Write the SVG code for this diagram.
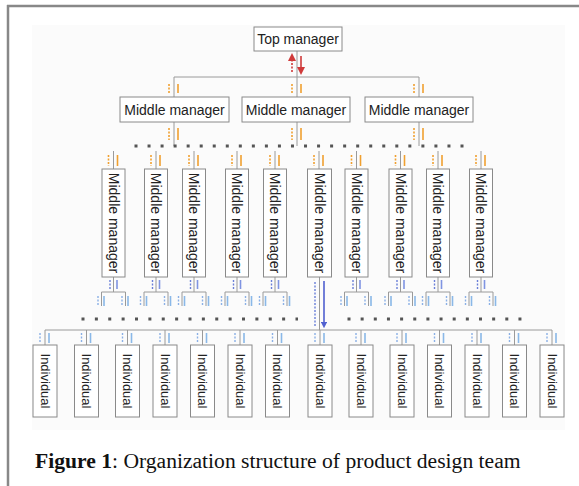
<svg xmlns="http://www.w3.org/2000/svg" width="579" height="486" viewBox="0 0 579 486">
<style>
.box{fill:#fff;stroke:#8a8a8a;stroke-width:1}
.t{font-family:"Liberation Sans",Arial,sans-serif;font-size:14px;fill:#222;text-anchor:middle;dominant-baseline:central}
.ti{font-family:"Liberation Sans",Arial,sans-serif;font-size:13px;fill:#222;text-anchor:middle;dominant-baseline:central}
.ln{stroke:#9a9a9a;stroke-width:1;fill:none}
.dots{stroke:#555;stroke-width:3;fill:none}
.od{stroke:#f0a030;stroke-width:1.6;stroke-dasharray:2 1.5}
.os{stroke:#f0a030;stroke-width:1.6}
.bd{stroke:#6a7fd8;stroke-width:1.4;stroke-dasharray:2 1.5}
.bs{stroke:#7f94e2;stroke-width:1.6}
.ld{stroke:#8ab0e6;stroke-width:1.4;stroke-dasharray:2 1.5}
.ls{stroke:#8ab8e8;stroke-width:1.6}
</style>
<defs>
<marker id="rU" viewBox="0 0 6 6" refX="3" refY="3" markerWidth="5" markerHeight="5" orient="auto"><path d="M0,0 L6,3 L0,6 z" fill="#d03a3a"/></marker>
<marker id="rD" viewBox="0 0 6 6" refX="3" refY="3" markerWidth="5" markerHeight="5" orient="auto"><path d="M0,0 L6,3 L0,6 z" fill="#d03a3a"/></marker>
<marker id="bD" viewBox="0 0 6 6" refX="3" refY="3" markerWidth="4" markerHeight="4" orient="auto"><path d="M0,0 L6,3 L0,6 z" fill="#5060d0"/></marker>
</defs>
<rect x="0" y="0" width="579" height="486" fill="#fff"/>
<rect x="32" y="25" width="533" height="405" fill="#fbfbfb"/>
<line x1="7" y1="6" x2="579" y2="6" stroke="#888" stroke-width="2.5"/>
<line x1="8" y1="5" x2="8" y2="486" stroke="#888" stroke-width="2.5"/>

<g id="connectors">
  <line class="ln" x1="297" y1="51" x2="297" y2="77"/>
  <line class="ln" x1="174" y1="77" x2="419" y2="77"/>
  <line x1="292" y1="72" x2="292" y2="57" stroke="#d03a3a" stroke-width="1.6" stroke-dasharray="2 1.5" marker-end="url(#rU)"/>
  <line x1="301" y1="56" x2="301" y2="71" stroke="#d03a3a" stroke-width="1.6" marker-end="url(#rD)"/>
  <line class="ln" x1="174" y1="77" x2="174" y2="97"/>
  <line class="ln" x1="297" y1="77" x2="297" y2="97"/>
  <line class="ln" x1="419" y1="77" x2="419" y2="97"/>
  <line class="od" x1="169" y1="84" x2="169" y2="93"/><line class="os" x1="178" y1="84" x2="178" y2="93"/>
  <line class="od" x1="292" y1="84" x2="292" y2="93"/><line class="os" x1="301" y1="84" x2="301" y2="93"/>
  <line class="od" x1="414" y1="84" x2="414" y2="93"/><line class="os" x1="423" y1="84" x2="423" y2="93"/>
  <line class="ln" x1="174" y1="122" x2="174" y2="146"/>
  <line class="ln" x1="297" y1="122" x2="297" y2="146"/>
  <line class="ln" x1="419" y1="122" x2="419" y2="146"/>
  <line class="od" x1="169" y1="128" x2="169" y2="140"/><line class="os" x1="178" y1="128" x2="178" y2="140"/>
  <line class="od" x1="292" y1="128" x2="292" y2="140"/><line class="os" x1="301" y1="128" x2="301" y2="140"/>
  <line class="od" x1="414" y1="128" x2="414" y2="140"/><line class="os" x1="423" y1="128" x2="423" y2="140"/>
  <line class="dots" x1="134.5" y1="146" x2="464" y2="146" stroke-dasharray="3 10.04"/>
  <g id="vm-top">
    <line class="ln" x1="113.5" y1="151" x2="113.5" y2="169"/><line class="od" x1="108.5" y1="155" x2="108.5" y2="166"/><line class="os" x1="117.5" y1="155" x2="117.5" y2="166"/>
    <line class="ln" x1="156" y1="151" x2="156" y2="169"/><line class="od" x1="151" y1="155" x2="151" y2="166"/><line class="os" x1="160" y1="155" x2="160" y2="166"/>
    <line class="ln" x1="194" y1="151" x2="194" y2="169"/><line class="od" x1="189" y1="155" x2="189" y2="166"/><line class="os" x1="198" y1="155" x2="198" y2="166"/>
    <line class="ln" x1="237" y1="151" x2="237" y2="169"/><line class="od" x1="232" y1="155" x2="232" y2="166"/><line class="os" x1="241" y1="155" x2="241" y2="166"/>
    <line class="ln" x1="275" y1="151" x2="275" y2="169"/><line class="od" x1="270" y1="155" x2="270" y2="166"/><line class="os" x1="279" y1="155" x2="279" y2="166"/>
    <line class="ln" x1="319" y1="151" x2="319" y2="169"/><line class="od" x1="314" y1="155" x2="314" y2="166"/><line class="os" x1="323" y1="155" x2="323" y2="166"/>
    <line class="ln" x1="356.5" y1="151" x2="356.5" y2="169"/><line class="od" x1="351.5" y1="155" x2="351.5" y2="166"/><line class="os" x1="360.5" y1="155" x2="360.5" y2="166"/>
    <line class="ln" x1="400.5" y1="151" x2="400.5" y2="169"/><line class="od" x1="395.5" y1="155" x2="395.5" y2="166"/><line class="os" x1="404.5" y1="155" x2="404.5" y2="166"/>
    <line class="ln" x1="438" y1="151" x2="438" y2="169"/><line class="od" x1="433" y1="155" x2="433" y2="166"/><line class="os" x1="442" y1="155" x2="442" y2="166"/>
    <line class="ln" x1="481" y1="151" x2="481" y2="169"/><line class="od" x1="476" y1="155" x2="476" y2="166"/><line class="os" x1="485" y1="155" x2="485" y2="166"/>
  </g>
  <g id="trees">
    <path class="ln" d="M113.5,277V292M101.5,306V292H125.5V306"/><line class="bd" x1="110" y1="280" x2="110" y2="289"/><line class="bs" x1="117" y1="280" x2="117" y2="289"/><line class="ld" x1="98" y1="296" x2="98" y2="305"/><line class="ls" x1="104" y1="296" x2="104" y2="306"/><line class="ld" x1="122" y1="296" x2="122" y2="305"/><line class="ls" x1="128" y1="296" x2="128" y2="306"/>
    <path class="ln" d="M156,277V292M144,306V292H168V306"/><line class="bd" x1="152.5" y1="280" x2="152.5" y2="289"/><line class="bs" x1="159.5" y1="280" x2="159.5" y2="289"/><line class="ld" x1="140.5" y1="296" x2="140.5" y2="305"/><line class="ls" x1="146.5" y1="296" x2="146.5" y2="306"/><line class="ld" x1="164.5" y1="296" x2="164.5" y2="305"/><line class="ls" x1="170.5" y1="296" x2="170.5" y2="306"/>
    <path class="ln" d="M194,277V292M182,306V292H206V306"/><line class="bd" x1="190.5" y1="280" x2="190.5" y2="289"/><line class="bs" x1="197.5" y1="280" x2="197.5" y2="289"/><line class="ld" x1="178.5" y1="296" x2="178.5" y2="305"/><line class="ls" x1="184.5" y1="296" x2="184.5" y2="306"/><line class="ld" x1="202.5" y1="296" x2="202.5" y2="305"/><line class="ls" x1="208.5" y1="296" x2="208.5" y2="306"/>
    <path class="ln" d="M237,277V292M225,306V292H249V306"/><line class="bd" x1="233.5" y1="280" x2="233.5" y2="289"/><line class="bs" x1="240.5" y1="280" x2="240.5" y2="289"/><line class="ld" x1="221.5" y1="296" x2="221.5" y2="305"/><line class="ls" x1="227.5" y1="296" x2="227.5" y2="306"/><line class="ld" x1="245.5" y1="296" x2="245.5" y2="305"/><line class="ls" x1="251.5" y1="296" x2="251.5" y2="306"/>
    <path class="ln" d="M275,277V292M263,306V292H287V306"/><line class="bd" x1="271.5" y1="280" x2="271.5" y2="289"/><line class="bs" x1="278.5" y1="280" x2="278.5" y2="289"/><line class="ld" x1="259.5" y1="296" x2="259.5" y2="305"/><line class="ls" x1="265.5" y1="296" x2="265.5" y2="306"/><line class="ld" x1="283.5" y1="296" x2="283.5" y2="305"/><line class="ls" x1="289.5" y1="296" x2="289.5" y2="306"/>
    <path class="ln" d="M356.5,277V292M344.5,306V292H368.5V306"/><line class="bd" x1="353" y1="280" x2="353" y2="289"/><line class="bs" x1="360" y1="280" x2="360" y2="289"/><line class="ld" x1="341" y1="296" x2="341" y2="305"/><line class="ls" x1="347" y1="296" x2="347" y2="306"/><line class="ld" x1="365" y1="296" x2="365" y2="305"/><line class="ls" x1="371" y1="296" x2="371" y2="306"/>
    <path class="ln" d="M400.5,277V292M388.5,306V292H412.5V306"/><line class="bd" x1="397" y1="280" x2="397" y2="289"/><line class="bs" x1="404" y1="280" x2="404" y2="289"/><line class="ld" x1="385" y1="296" x2="385" y2="305"/><line class="ls" x1="391" y1="296" x2="391" y2="306"/><line class="ld" x1="409" y1="296" x2="409" y2="305"/><line class="ls" x1="415" y1="296" x2="415" y2="306"/>
    <path class="ln" d="M438,277V292M426,306V292H450V306"/><line class="bd" x1="434.5" y1="280" x2="434.5" y2="289"/><line class="bs" x1="441.5" y1="280" x2="441.5" y2="289"/><line class="ld" x1="422.5" y1="296" x2="422.5" y2="305"/><line class="ls" x1="428.5" y1="296" x2="428.5" y2="306"/><line class="ld" x1="446.5" y1="296" x2="446.5" y2="305"/><line class="ls" x1="452.5" y1="296" x2="452.5" y2="306"/>
    <path class="ln" d="M481,277V292M469,306V292H493V306"/><line class="bd" x1="477.5" y1="280" x2="477.5" y2="289"/><line class="bs" x1="484.5" y1="280" x2="484.5" y2="289"/><line class="ld" x1="465.5" y1="296" x2="465.5" y2="305"/><line class="ls" x1="471.5" y1="296" x2="471.5" y2="306"/><line class="ld" x1="489.5" y1="296" x2="489.5" y2="305"/><line class="ls" x1="495.5" y1="296" x2="495.5" y2="306"/>
  </g>
  <line class="ln" x1="319.5" y1="277" x2="319.5" y2="330"/>
  <line x1="315" y1="282" x2="315" y2="327" stroke="#6a7fd8" stroke-width="1.4" stroke-dasharray="2 1.5"/>
  <line x1="324" y1="281" x2="324" y2="325" stroke="#5060d0" stroke-width="1.6" marker-end="url(#bD)"/>
  <line class="dots" x1="81.5" y1="319" x2="298" y2="319" stroke-dasharray="3 10.375"/>
  <line class="dots" x1="347.5" y1="319" x2="522" y2="319" stroke-dasharray="3 10.15"/>
  <line class="ln" x1="45" y1="330" x2="552" y2="330"/>
  <g id="ind-legs">
    <line class="ln" x1="45" y1="330" x2="45" y2="345"/><line class="ld" x1="40" y1="333" x2="40" y2="342"/><line class="ls" x1="49" y1="333" x2="49" y2="343"/>
    <line class="ln" x1="86.5" y1="330" x2="86.5" y2="345"/><line class="ld" x1="81.5" y1="333" x2="81.5" y2="342"/><line class="ls" x1="90.5" y1="333" x2="90.5" y2="343"/>
    <line class="ln" x1="127.5" y1="330" x2="127.5" y2="345"/><line class="ld" x1="122.5" y1="333" x2="122.5" y2="342"/><line class="ls" x1="131.5" y1="333" x2="131.5" y2="343"/>
    <line class="ln" x1="165" y1="330" x2="165" y2="345"/><line class="ld" x1="160" y1="333" x2="160" y2="342"/><line class="ls" x1="169" y1="333" x2="169" y2="343"/>
    <line class="ln" x1="202.5" y1="330" x2="202.5" y2="345"/><line class="ld" x1="197.5" y1="333" x2="197.5" y2="342"/><line class="ls" x1="206.5" y1="333" x2="206.5" y2="343"/>
    <line class="ln" x1="240" y1="330" x2="240" y2="345"/><line class="ld" x1="235" y1="333" x2="235" y2="342"/><line class="ls" x1="244" y1="333" x2="244" y2="343"/>
    <line class="ln" x1="277.5" y1="330" x2="277.5" y2="345"/><line class="ld" x1="272.5" y1="333" x2="272.5" y2="342"/><line class="ls" x1="281.5" y1="333" x2="281.5" y2="343"/>
    <line class="ln" x1="320" y1="330" x2="320" y2="345"/><line class="ld" x1="315" y1="333" x2="315" y2="342"/><line class="ls" x1="324" y1="333" x2="324" y2="343"/>
    <line class="ln" x1="361" y1="330" x2="361" y2="345"/><line class="ld" x1="356" y1="333" x2="356" y2="342"/><line class="ls" x1="365" y1="333" x2="365" y2="343"/>
    <line class="ln" x1="402" y1="330" x2="402" y2="345"/><line class="ld" x1="397" y1="333" x2="397" y2="342"/><line class="ls" x1="406" y1="333" x2="406" y2="343"/>
    <line class="ln" x1="439.5" y1="330" x2="439.5" y2="345"/><line class="ld" x1="434.5" y1="333" x2="434.5" y2="342"/><line class="ls" x1="443.5" y1="333" x2="443.5" y2="343"/>
    <line class="ln" x1="477" y1="330" x2="477" y2="345"/><line class="ld" x1="472" y1="333" x2="472" y2="342"/><line class="ls" x1="481" y1="333" x2="481" y2="343"/>
    <line class="ln" x1="514.5" y1="330" x2="514.5" y2="345"/><line class="ld" x1="509.5" y1="333" x2="509.5" y2="342"/><line class="ls" x1="518.5" y1="333" x2="518.5" y2="343"/>
    <line class="ln" x1="552" y1="330" x2="552" y2="345"/><line class="ld" x1="547" y1="333" x2="547" y2="342"/><line class="ls" x1="556" y1="333" x2="556" y2="343"/>
  </g>
</g>

<g id="top"><rect class="box" x="254" y="27" width="88" height="24"/><text class="t" x="298" y="39">Top manager</text></g>
<g id="mm1"><rect class="box" x="120" y="97" width="109" height="25"/><text class="t" x="174.5" y="109.5">Middle manager</text></g>
<g id="mm2"><rect class="box" x="242" y="97" width="108" height="25"/><text class="t" x="296" y="109.5">Middle manager</text></g>
<g id="mm3"><rect class="box" x="365" y="97" width="108" height="25"/><text class="t" x="419" y="109.5">Middle manager</text></g>

<g id="vm1"><rect class="box" x="102" y="169" width="23" height="108"/><text class="t" transform="translate(113.5,223) rotate(90)">Middle manager</text></g>
<g id="vm2"><rect class="box" x="144.5" y="169" width="23" height="108"/><text class="t" transform="translate(156,223) rotate(90)">Middle manager</text></g>
<g id="vm3"><rect class="box" x="182.5" y="169" width="23" height="108"/><text class="t" transform="translate(194,223) rotate(90)">Middle manager</text></g>
<g id="vm4"><rect class="box" x="225.5" y="169" width="23" height="108"/><text class="t" transform="translate(237,223) rotate(90)">Middle manager</text></g>
<g id="vm5"><rect class="box" x="263.5" y="169" width="23" height="108"/><text class="t" transform="translate(275,223) rotate(90)">Middle manager</text></g>
<g id="vm6"><rect class="box" x="307.5" y="169" width="24" height="108"/><text class="t" transform="translate(319.5,223) rotate(90)">Middle manager</text></g>
<g id="vm7"><rect class="box" x="345" y="169" width="23" height="108"/><text class="t" transform="translate(356.5,223) rotate(90)">Middle manager</text></g>
<g id="vm8"><rect class="box" x="389" y="169" width="23" height="108"/><text class="t" transform="translate(400.5,223) rotate(90)">Middle manager</text></g>
<g id="vm9"><rect class="box" x="426.5" y="169" width="23" height="108"/><text class="t" transform="translate(438,223) rotate(90)">Middle manager</text></g>
<g id="vm10"><rect class="box" x="469.5" y="169" width="23" height="108"/><text class="t" transform="translate(481,223) rotate(90)">Middle manager</text></g>

<g id="in1"><rect class="box" x="33" y="345" width="24" height="72"/><text class="ti" transform="translate(45,381) rotate(90)">Individual</text></g>
<g id="in2"><rect class="box" x="74.5" y="345" width="24" height="72"/><text class="ti" transform="translate(86.5,381) rotate(90)">Individual</text></g>
<g id="in3"><rect class="box" x="115.5" y="345" width="24" height="72"/><text class="ti" transform="translate(127.5,381) rotate(90)">Individual</text></g>
<g id="in4"><rect class="box" x="153" y="345" width="24" height="72"/><text class="ti" transform="translate(165,381) rotate(90)">Individual</text></g>
<g id="in5"><rect class="box" x="190.5" y="345" width="24" height="72"/><text class="ti" transform="translate(202.5,381) rotate(90)">Individual</text></g>
<g id="in6"><rect class="box" x="228" y="345" width="24" height="72"/><text class="ti" transform="translate(240,381) rotate(90)">Individual</text></g>
<g id="in7"><rect class="box" x="265.5" y="345" width="24" height="72"/><text class="ti" transform="translate(277.5,381) rotate(90)">Individual</text></g>
<g id="in8"><rect class="box" x="308" y="345" width="24" height="72"/><text class="ti" transform="translate(320,381) rotate(90)">Individual</text></g>
<g id="in9"><rect class="box" x="349" y="345" width="24" height="72"/><text class="ti" transform="translate(361,381) rotate(90)">Individual</text></g>
<g id="in10"><rect class="box" x="390" y="345" width="24" height="72"/><text class="ti" transform="translate(402,381) rotate(90)">Individual</text></g>
<g id="in11"><rect class="box" x="427.5" y="345" width="24" height="72"/><text class="ti" transform="translate(439.5,381) rotate(90)">Individual</text></g>
<g id="in12"><rect class="box" x="465" y="345" width="24" height="72"/><text class="ti" transform="translate(477,381) rotate(90)">Individual</text></g>
<g id="in13"><rect class="box" x="502.5" y="345" width="24" height="72"/><text class="ti" transform="translate(514.5,381) rotate(90)">Individual</text></g>
<g id="in14"><rect class="box" x="540" y="345" width="24" height="72"/><text class="ti" transform="translate(552,381) rotate(90)">Individual</text></g>

<text x="35" y="468" font-family="'Liberation Serif','Times New Roman',serif" font-size="21.6" fill="#111"><tspan font-weight="bold">Figure 1</tspan>: Organization structure of product design team</text>
</svg>
